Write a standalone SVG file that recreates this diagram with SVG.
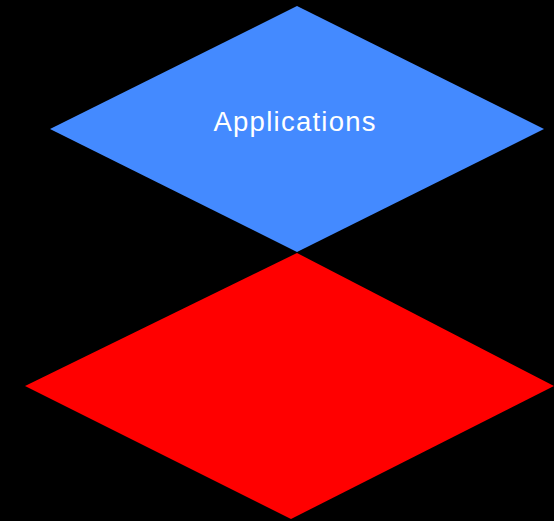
<svg xmlns="http://www.w3.org/2000/svg" width="554" height="521" viewBox="0 0 554 521">
  <style>
    .label { font-family: "Liberation Sans", Arial, sans-serif; font-size: 27.5px; fill: #ffffff; }
  </style>
  <rect x="0" y="0" width="554" height="521" fill="#000000"/>
  <g id="connectors"></g>
  <g id="node-red">
    <polygon points="297,253 554,386 291,519 25,386" fill="#ff0000"/>
  </g>
  <g id="node-applications">
    <polygon points="297,6 544,129 297,252 50,129" fill="#448aff"/>
    <text class="label" x="213.5" y="131" textLength="162" lengthAdjust="spacing">Applications</text>
  </g>
</svg>
